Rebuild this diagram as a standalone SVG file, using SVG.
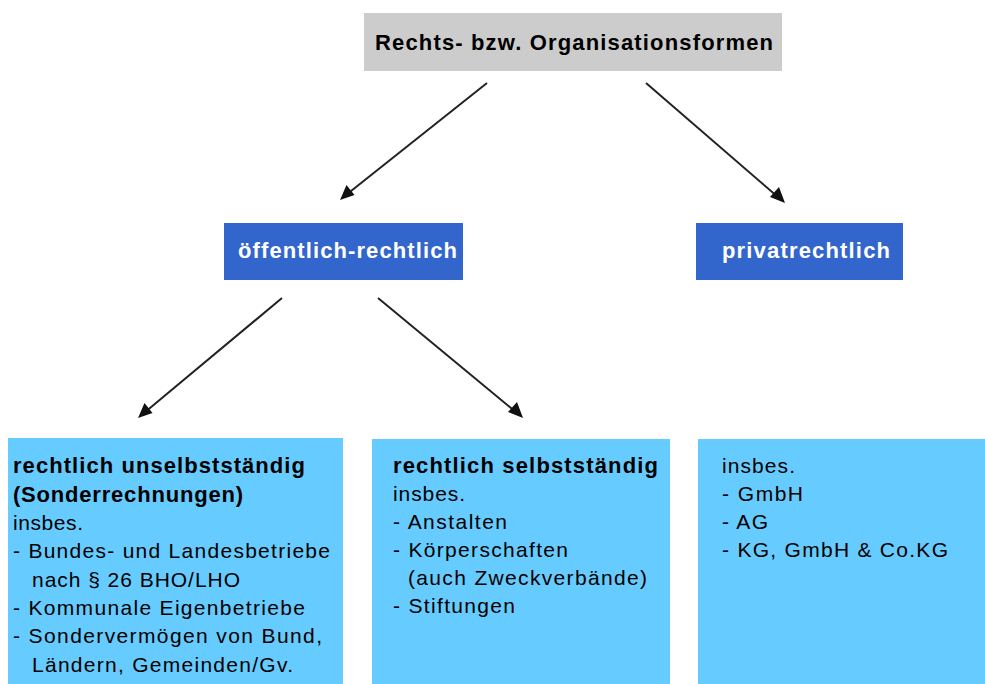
<svg xmlns="http://www.w3.org/2000/svg" width="985" height="684" viewBox="0 0 985 684">
<style>
text{font-family:"Liberation Sans",Arial,sans-serif;fill:#000}
.t{font-size:22px;font-weight:bold}
.n{font-size:22px;font-weight:bold;fill:#fff}
.b{font-size:22px;font-weight:bold}
.r{font-size:21px}
.blue{fill:#3366cc}
.lb{fill:#66ccff}
.c{stroke:#222;stroke-width:2;fill:none}
.h{fill:#111}
</style>
<rect width="985" height="684" fill="#fff"/>
<g id="connectors">
<line class="c" x1="487" y1="83" x2="346" y2="195"/>
<path class="h" d="M340,200 l6.5,-15 l8,10 z"/>
<line class="c" x1="646" y1="83" x2="779" y2="198"/>
<path class="h" d="M785,203 l-15,-6 l9,-10 z"/>
<line class="c" x1="282" y1="298" x2="144" y2="413"/>
<path class="h" d="M138,418 l6.5,-15 l8,10 z"/>
<line class="c" x1="378" y1="298" x2="517" y2="413"/>
<path class="h" d="M523,418 l-15,-6 l9,-10 z"/>
</g>
<g id="root">
<rect x="364" y="13" width="418" height="58" fill="#cccccc"/>
<text class="t" x="375" y="50" textLength="398" lengthAdjust="spacing">Rechts- bzw. Organisationsformen</text>
</g>
<g id="oeffentlich">
<rect class="blue" x="224" y="223" width="239" height="57"/>
<text class="n" x="238" y="258" textLength="219" lengthAdjust="spacing">öffentlich-rechtlich</text>
</g>
<g id="privat">
<rect class="blue" x="696" y="223" width="207" height="57"/>
<text class="n" x="722" y="258" textLength="168" lengthAdjust="spacing">privatrechtlich</text>
</g>
<g id="unselbst">
<rect class="lb" x="8" y="438" width="335" height="246"/>
<text class="b" x="13" y="473" textLength="292" lengthAdjust="spacing">rechtlich unselbstständig</text>
<text class="b" x="13" y="502" textLength="230" lengthAdjust="spacing">(Sonderrechnungen)</text>
<text class="r" x="13" y="530" textLength="70" lengthAdjust="spacing">insbes.</text>
<text class="r" x="13" y="558" textLength="317" lengthAdjust="spacing">- Bundes- und Landesbetriebe</text>
<text class="r" x="32" y="587" textLength="208" lengthAdjust="spacing">nach § 26 BHO/LHO</text>
<text class="r" x="13" y="615" textLength="292" lengthAdjust="spacing">- Kommunale Eigenbetriebe</text>
<text class="r" x="13" y="643" textLength="309" lengthAdjust="spacing">- Sondervermögen von Bund,</text>
<text class="r" x="32" y="672" textLength="261" lengthAdjust="spacing">Ländern, Gemeinden/Gv.</text>
</g>
<g id="selbst">
<rect class="lb" x="372" y="439" width="298" height="245"/>
<text class="b" x="393" y="473" textLength="265" lengthAdjust="spacing">rechtlich selbstständig</text>
<text class="r" x="393" y="501" textLength="72" lengthAdjust="spacing">insbes.</text>
<text class="r" x="393" y="529" textLength="114" lengthAdjust="spacing">- Anstalten</text>
<text class="r" x="393" y="557" textLength="175" lengthAdjust="spacing">- Körperschaften</text>
<text class="r" x="408" y="585" textLength="239" lengthAdjust="spacing">(auch Zweckverbände)</text>
<text class="r" x="393" y="613" textLength="122" lengthAdjust="spacing">- Stiftungen</text>
</g>
<g id="privatliste">
<rect class="lb" x="698" y="439" width="287" height="245"/>
<text class="r" x="722" y="473" textLength="73" lengthAdjust="spacing">insbes.</text>
<text class="r" x="722" y="501" textLength="81" lengthAdjust="spacing">- GmbH</text>
<text class="r" x="722" y="529" textLength="46" lengthAdjust="spacing">- AG</text>
<text class="r" x="722" y="557" textLength="226" lengthAdjust="spacing">- KG, GmbH &amp; Co.KG</text>
</g>
</svg>
